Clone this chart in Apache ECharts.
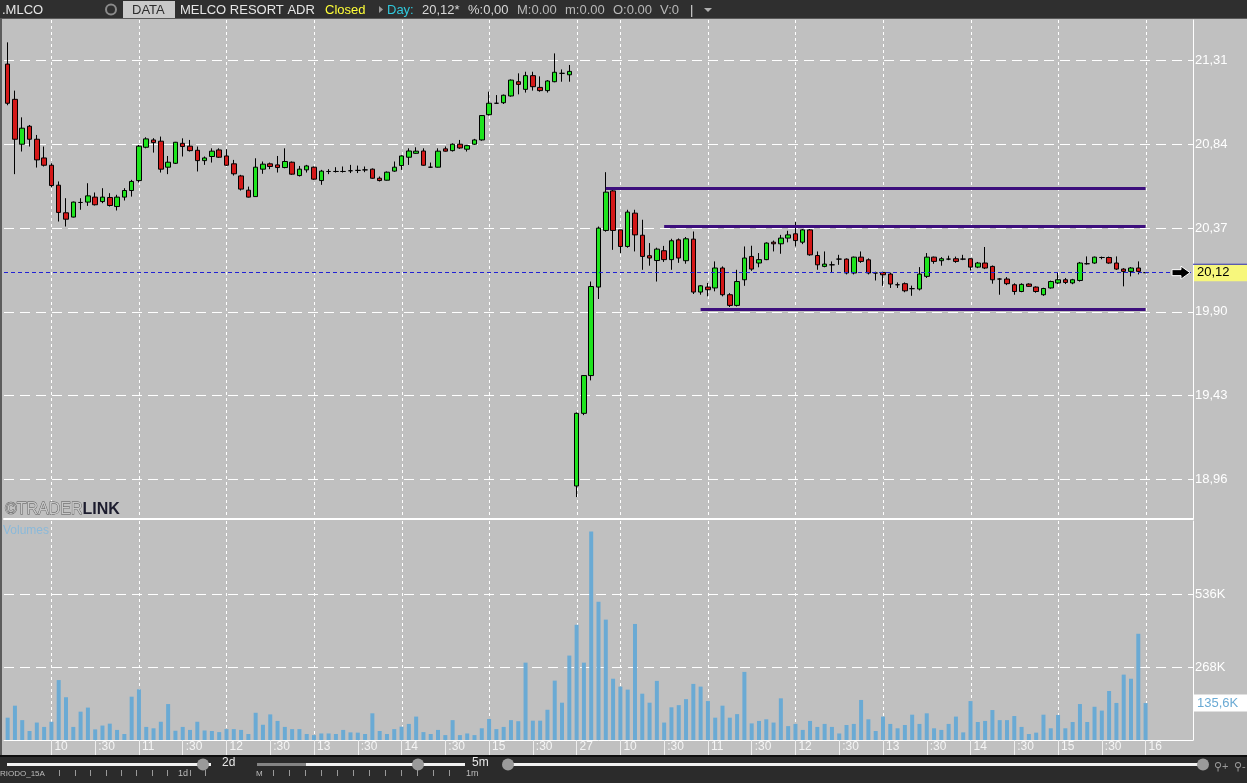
<!DOCTYPE html>
<html><head><meta charset="utf-8">
<script src="https://cdn.jsdelivr.net/npm/echarts@6/dist/echarts.min.js"></script>
<style>html,body{margin:0;padding:0;background:#c0c0c0;overflow:hidden}#chart{width:1247px;height:783px}</style>
</head><body><div id="chart"></div>
<script>
// ---------- DATA ----------
const dayLabels = ['26', '27'];
const sessionStart = '09:30';
const sessionEnds = ['15:55', '16:00'];
const padSlots = 6;
const priceTicks = [18.96, 19.43, 19.90, 20.37, 20.84, 21.31];
const volumeTickStep = 268000;
const opens = [21.291,21.093,20.841,20.942,20.869,20.764,20.723,20.611,20.456,20.432,20.514,20.516,20.544,20.519,20.542,20.491,20.544,20.581,20.637,20.824,
20.865,20.858,20.712,20.734,20.846,20.83,20.807,20.749,20.772,20.809,20.775,20.731,20.663,20.583,20.547,20.701,20.731,20.725,20.71,20.74,
20.665,20.697,20.712,20.637,20.688,20.688,20.688,20.692,20.694,20.697,20.701,20.65,20.639,20.69,20.721,20.768,20.79,20.803,20.712,20.712,
20.815,20.805,20.841,20.813,20.841,20.865,21.007,21.071,21.074,21.112,21.192,21.149,21.226,21.16,21.142,21.192,21.239,21.231,
18.922,19.33,19.542,20.039,20.357,20.579,20.36,20.267,20.454,20.33,20.215,20.188,20.243,20.193,20.304,20.187,20.308,20.011,20.039,20.034,
20.146,19.996,19.936,20.08,20.211,20.174,20.193,20.291,20.282,20.314,20.338,20.291,20.36,20.216,20.155,20.164,20.196,20.196,20.118,20.207,
20.192,20.118,20.121,20.112,20.052,20.058,20.03,20.028,20.099,20.207,20.187,20.196,20.198,20.196,20.198,20.151,20.174,20.155,20.084,20.084,
20.052,20.014,20.056,20.039,19.996,20.034,20.062,20.08,20.062,20.076,20.17,20.174,20.205,20.205,20.174,20.14,20.127,20.146,20.12];
const highs = [21.413,21.142,20.992,20.949,20.893,20.828,20.734,20.632,20.538,20.519,20.538,20.622,20.57,20.594,20.566,20.557,20.594,20.641,20.837,20.88,
20.875,20.884,20.775,20.854,20.874,20.865,20.828,20.772,20.818,20.818,20.813,20.753,20.669,20.603,20.762,20.744,20.738,20.775,20.818,20.744,
20.719,20.725,20.716,20.697,20.701,20.712,20.716,20.725,20.721,20.716,20.705,20.66,20.688,20.744,20.779,20.818,20.824,20.818,20.738,20.818,
20.828,20.846,20.865,20.837,20.871,21.005,21.136,21.117,21.12,21.205,21.239,21.248,21.248,21.222,21.201,21.351,21.261,21.286,
19.335,19.545,20.07,20.379,20.684,20.585,20.36,20.473,20.473,20.417,20.286,20.26,20.27,20.31,20.312,20.32,20.351,20.05,20.062,20.183,
20.155,20.005,20.136,20.267,20.271,20.23,20.29,20.30,20.332,20.355,20.404,20.365,20.365,20.239,20.239,20.183,20.22,20.2,20.21,20.239,
20.2,20.125,20.125,20.12,20.065,20.065,20.047,20.151,20.23,20.21,20.207,20.215,20.21,20.22,20.2,20.18,20.264,20.16,20.09,20.095,
20.06,20.06,20.06,20.043,20.035,20.075,20.121,20.09,20.085,20.18,20.211,20.21,20.21,20.21,20.211,20.145,20.151,20.183,20.12];
const lows = [21.06,20.673,20.80,20.828,20.71,20.716,20.60,20.407,20.379,20.43,20.473,20.495,20.497,20.51,20.491,20.469,20.525,20.547,20.626,20.818,
20.794,20.682,20.673,20.73,20.772,20.80,20.688,20.725,20.738,20.764,20.719,20.665,20.581,20.542,20.547,20.675,20.701,20.682,20.706,20.669,
20.66,20.682,20.641,20.613,20.673,20.682,20.682,20.679,20.679,20.684,20.647,20.632,20.637,20.686,20.697,20.725,20.787,20.72,20.708,20.71,
20.80,20.80,20.815,20.80,20.837,20.861,21.002,21.067,21.067,21.108,21.121,21.131,21.142,21.136,21.131,21.189,21.192,21.192,
18.86,19.32,19.515,19.972,20.35,20.248,20.23,20.26,20.239,20.136,20.159,20.07,20.18,20.136,20.175,20.17,20.0,19.996,19.987,20.015,
19.987,19.927,19.93,20.046,20.13,20.15,20.19,20.239,20.226,20.29,20.267,20.28,20.215,20.136,20.15,20.12,20.164,20.11,20.11,20.175,
20.11,20.076,20.046,20.034,20.034,20.01,19.99,20.02,20.09,20.17,20.159,20.19,20.175,20.19,20.132,20.145,20.14,20.058,19.996,20.05,
19.996,20.01,20.04,20.007,19.99,20.03,20.056,20.056,20.055,20.07,20.165,20.17,20.195,20.17,20.135,20.043,20.099,20.11,20.12];
const closes = [21.071,20.869,20.931,20.869,20.753,20.723,20.609,20.458,20.42,20.516,20.514,20.551,20.501,20.544,20.497,20.544,20.581,20.632,20.83,20.871,
20.85,20.701,20.74,20.852,20.828,20.805,20.749,20.764,20.802,20.768,20.723,20.675,20.589,20.544,20.712,20.729,20.716,20.71,20.744,20.673,
20.701,20.719,20.645,20.69,20.688,20.688,20.688,20.692,20.694,20.697,20.65,20.637,20.684,20.712,20.775,20.803,20.802,20.723,20.712,20.802,
20.802,20.841,20.82,20.833,20.865,21.002,21.071,21.071,21.116,21.201,21.177,21.226,21.164,21.142,21.196,21.245,21.239,21.25,
19.33,19.542,20.042,20.37,20.572,20.357,20.267,20.46,20.332,20.211,20.202,20.252,20.193,20.299,20.202,20.31,20.011,20.046,20.024,20.146,
19.996,19.936,20.07,20.202,20.14,20.193,20.286,20.282,20.314,20.332,20.30,20.36,20.22,20.164,20.168,20.164,20.196,20.118,20.207,20.183,
20.118,20.118,20.108,20.056,20.052,20.018,20.03,20.112,20.207,20.183,20.198,20.196,20.183,20.196,20.151,20.174,20.146,20.08,20.084,20.058,
20.014,20.054,20.043,20.014,20.031,20.07,20.08,20.065,20.08,20.174,20.17,20.207,20.205,20.174,20.14,20.127,20.146,20.127,20.12];
const volumesK = [82,126,73,33,64,48,67,220,157,48,104,119,39,53,60,37,22,159,186,48,
43,67,132,34,48,37,67,35,33,29,40,40,37,22,100,56,94,70,48,40,
40,22,18,24,24,22,37,28,27,22,98,33,22,40,49,59,86,29,22,37,
18,73,18,24,18,43,77,40,48,73,69,284,71,71,111,218,137,310,
423,284,765,508,442,225,196,185,426,170,137,217,64,120,128,150,206,196,143,82,
126,82,95,250,61,70,76,64,153,51,59,37,70,48,59,48,24,55,59,147,
76,33,86,59,43,55,93,59,98,43,37,59,86,28,143,66,70,110,73,73,
88,48,22,27,93,43,92,43,66,132,66,122,108,180,136,240,225,390,135.6];
const lastPrice = 20.12;
const lastVolume = 135600;
const levels = [
  {from: '27 09:50', to: '27 16:00', value: 20.594},
  {from: '27 10:30', to: '27 16:00', value: 20.382},
  {from: '27 10:55', to: '27 16:00', value: 19.914}
];

// ---------- categories ----------
const pad2 = n => String(n).padStart(2, '0');
const toMin = s => { const [h, m] = s.split(':').map(Number); return h * 60 + m; };
const categories = [];
dayLabels.forEach((d, i) => {
  for (let m = toMin(sessionStart); m <= toMin(sessionEnds[i]); m += 5) {
    categories.push(d + ' ' + pad2(Math.floor(m / 60)) + ':' + pad2(m % 60));
  }
});
for (let i = 1; i <= padSlots; i++) categories.push('pad' + i);

const timeOf = idx => { const c = categories[idx]; return (!c || c.startsWith('pad')) ? null : c.split(' ')[1]; };
const isLabelIdx = idx => { const t = timeOf(idx); if (!t) return false; if (t === sessionStart) return idx > 0; return t.endsWith(':00') || t.endsWith(':30'); };
const isHourIdx = idx => { const t = timeOf(idx); if (!t) return false; if (t === sessionStart) return idx > 0; return t.slice(3) === '00'; };
const hourCats = categories.filter((c, i) => isHourIdx(i));
const fmtPrice = v => v.toFixed(2).replace('.', ',');

function hasFont(name) {
  const c = document.createElement('canvas').getContext('2d');
  c.font = '14px monospace'; const a = c.measureText('0123456789:').width;
  c.font = '14px "' + name + '", monospace'; const b = c.measureText('0123456789:').width;
  return Math.abs(a - b) > 0.5;
}
const narrow = hasFont('Liberation Sans Narrow');
const xFont = narrow ? {fontFamily: '"Liberation Sans Narrow"', fontSize: 14} : {fontFamily: '"Liberation Sans", Arial', fontSize: 12};
const SANS = '"Liberation Sans", Arial, sans-serif';

const GRID_L = 4, GRID_R = 54;
const chart = echarts.init(document.getElementById('chart'), null, {renderer: 'canvas'});

const candleData = opens.map((o, i) => [o, closes[i], lows[i], highs[i]]);
const volData = volumesK.map(v => v * 1000);

// vertical hourly grid lines drawn through the category axis
const hourLineSeries = (xi, yi) => ({
  type: 'custom', xAxisIndex: xi, yAxisIndex: yi, z: 1, silent: true, clip: false,
  data: hourCats.map(c => [c, 0]),
  renderItem: (params, api) => {
    const x = Math.round(api.coord([api.value(0), 0])[0]) + 0.5;
    const cs = params.coordSys;
    return {type: 'line', shape: {x1: x, y1: cs.y, x2: x, y2: cs.y + cs.height},
            style: {stroke: '#ffffff', lineWidth: 1, lineDash: [3, 3]}};
  }
});

const txt = (id, x, y, text, fill, extra) => ({
  type: 'text', id, x, y, z: 20,
  style: Object.assign({text, fill, font: '13px ' + SANS, verticalAlign: 'middle'}, extra || {})
});

const graphics = [
  {type: 'rect', id: 'hdr', z: 19, shape: {x: 0, y: 0, width: 1247, height: 19}, style: {fill: '#2f2f2f'}},
  {type: 'rect', id: 'hdrline', z: 19, shape: {x: 0, y: 18, width: 1247, height: 1}, style: {fill: '#5a5a5a'}},
  txt('t1', 2, 10, '.MLCO', '#e6e6e6'),
  {type: 'circle', id: 'ic', z: 20, shape: {cx: 111, cy: 9.5, r: 5}, style: {fill: 'none', stroke: '#8a8a8a', lineWidth: 2}},
  {type: 'rect', id: 'databox', z: 20, shape: {x: 123, y: 1, width: 52, height: 17}, style: {fill: '#c9c9c9'}},
  txt('t2', 132, 10, 'DATA', '#2e2e2e'),
  txt('t3', 180, 10, 'MELCO RESORT ADR', '#e6e6e6'),
  txt('t4', 325, 10, 'Closed', '#ffff38'),
  {type: 'polygon', id: 'tri', z: 20, shape: {points: [[379, 6], [383, 9.5], [379, 13]]}, style: {fill: '#9a9a9a'}},
  txt('t5', 387, 10, 'Day:', '#30c8dc'),
  txt('t6', 422, 10, '20,12*', '#d8d8d8'),
  txt('t7', 468, 10, '%:0,00', '#d8d8d8'),
  txt('t8', 517, 10, 'M:0.00', '#b8b8b8'),
  txt('t9', 565, 10, 'm:0.00', '#b8b8b8'),
  txt('t10', 613, 10, 'O:0.00', '#b8b8b8'),
  txt('t11', 660, 10, 'V:0', '#b8b8b8'),
  txt('t12', 690, 10, '|', '#d8d8d8'),
  {type: 'polygon', id: 'tri2', z: 20, shape: {points: [[704, 8], [712, 8], [708, 12]]}, style: {fill: '#b0b0b0'}},
  {type: 'rect', id: 'lstrip', z: 19, shape: {x: 0, y: 19, width: 2, height: 736}, style: {fill: '#5c5c5c'}},
  {type: 'text', id: 'wm', x: 5, y: 510, z: 20, style: {
    text: '{a|©TRADER}{b|LINK}', verticalAlign: 'middle',
    rich: {
      a: {fontSize: 16, fontFamily: SANS, fill: '#c8c8c8', stroke: '#555555', lineWidth: 0.8},
      b: {fontSize: 16, fontFamily: SANS, fontWeight: 'bold', fill: '#1c1c2e'}
    }}},
  txt('vol', 3, 531, 'Volumes', '#8bb9d9', {font: '12px ' + SANS}),
  {type: 'rect', id: 'bp', z: 19, shape: {x: 0, y: 755, width: 1247, height: 28}, style: {fill: '#2b2b2b'}},
  {type: 'rect', id: 'bpl', z: 19, shape: {x: 0, y: 755, width: 1247, height: 2}, style: {fill: '#0e0e0e'}},
  {type: 'rect', id: 's1', z: 20, shape: {x: 7, y: 763, width: 204, height: 3}, style: {fill: '#f2f2f2'}},
  {type: 'circle', id: 'k1', z: 21, shape: {cx: 203, cy: 764.5, r: 6}, style: {fill: '#9a9a9a'}},
  txt('l2d', 222, 763, '2d', '#e8e8e8', {font: '12px ' + SANS}),
  {type: 'rect', id: 's2a', z: 20, shape: {x: 257, y: 763, width: 49, height: 3}, style: {fill: '#858585'}},
  {type: 'rect', id: 's2b', z: 20, shape: {x: 306, y: 763, width: 159, height: 3}, style: {fill: '#f2f2f2'}},
  {type: 'circle', id: 'k2', z: 21, shape: {cx: 418, cy: 764.5, r: 6}, style: {fill: '#9a9a9a'}},
  txt('l5m', 472, 763, '5m', '#e8e8e8', {font: '12px ' + SANS}),
  {type: 'rect', id: 's3', z: 20, shape: {x: 508, y: 763, width: 695, height: 3}, style: {fill: '#f2f2f2'}},
  {type: 'circle', id: 'k3', z: 21, shape: {cx: 508, cy: 764.5, r: 6}, style: {fill: '#9a9a9a'}},
  {type: 'circle', id: 'k4', z: 21, shape: {cx: 1203, cy: 764.5, r: 6}, style: {fill: '#9a9a9a'}},
  txt('zp', 1214, 767, '⚲+', '#9a9a9a', {font: '11px ' + SANS}),
  txt('zm', 1234, 767, '⚲-', '#9a9a9a', {font: '11px ' + SANS}),
  txt('rio', 0, 774, 'RIODO_15A', '#bdbdbd', {font: '8px ' + SANS}),
  txt('l1d', 178, 774, '1d', '#bdbdbd', {font: '9px ' + SANS}),
  txt('lM', 256, 774, 'M', '#bdbdbd', {font: '8px ' + SANS}),
  txt('l1m', 466, 774, '1m', '#bdbdbd', {font: '9px ' + SANS})
];
[59, 75, 90, 106, 121, 136, 152, 167, 190, 205].forEach((x, i) => graphics.push({type: 'rect', id: 'tk' + i, z: 20, shape: {x, y: 770, width: 1, height: 6}, style: {fill: '#9a9a9a'}}));
[273, 289, 305, 321, 337, 353, 369, 385, 401, 417, 433, 449].forEach((x, i) => graphics.push({type: 'rect', id: 'tm' + i, z: 20, shape: {x, y: 770, width: 1, height: 6}, style: {fill: '#9a9a9a'}}));

const axisLabelFont = {color: '#ffffff', fontSize: 13, fontFamily: SANS};

const option = {
  animation: false,
  backgroundColor: '#c0c0c0',
  grid: [
    {left: GRID_L, right: GRID_R, top: 20, height: 499},
    {left: GRID_L, right: GRID_R, top: 521, height: 219}
  ],
  xAxis: [
    {type: 'category', gridIndex: 0, data: categories, boundaryGap: true,
     axisLine: {show: true, lineStyle: {color: '#ffffff', width: 2}},
     axisTick: {show: false}, axisLabel: {show: false}, splitLine: {show: false}},
    {type: 'category', gridIndex: 1, data: categories, boundaryGap: true,
     axisLine: {show: true, lineStyle: {color: '#ffffff', width: 1}},
     axisTick: {show: true, alignWithLabel: true, interval: (i) => isLabelIdx(i), length: 15, lineStyle: {color: '#eeeeee', width: 1}},
     axisLabel: Object.assign({interval: (i) => isLabelIdx(i), color: '#f4f4f4', align: 'left', margin: 1, padding: [0, 0, 0, 3],
       formatter: v => { const t = v.split(' ')[1]; if (t === sessionStart) return v.split(' ')[0]; if (t.endsWith(':30')) return ':30'; return String(parseInt(t, 10)); }}, xFont),
     splitLine: {show: false}}
  ],
  yAxis: [
    {type: 'value', gridIndex: 0, position: 'right', min: 18.7367, max: 21.5385, scale: true,
     axisLine: {show: true, lineStyle: {color: '#ffffff', width: 1}},
     axisTick: {show: false, customValues: priceTicks},
     axisLabel: Object.assign({customValues: priceTicks, margin: 2, formatter: v => fmtPrice(v)}, axisLabelFont),
     splitLine: {show: true, lineStyle: {color: '#ffffff', width: 1, type: [10, 6]}}},
    {type: 'value', gridIndex: 1, position: 'right', min: 0, max: volumeTickStep * 3, interval: volumeTickStep,
     axisLine: {show: true, lineStyle: {color: '#ffffff', width: 1}},
     axisTick: {show: false},
     axisLabel: Object.assign({margin: 2, showMinLabel: false, showMaxLabel: false, formatter: v => Math.round(v / 1000) + 'K'}, axisLabelFont),
     splitLine: {show: true, showMinLine: false, showMaxLine: false, lineStyle: {color: '#ffffff', width: 1, type: [10, 6]}}}
  ],
  series: [
    hourLineSeries(0, 0),
    hourLineSeries(1, 1),
    {type: 'candlestick', name: 'MLCO', xAxisIndex: 0, yAxisIndex: 0, data: candleData, barWidth: 5, z: 3,
     itemStyle: {color: '#1ee41e', color0: '#d41818', borderColor: '#000000', borderColor0: '#000000', borderColorDoji: '#000000', borderWidth: 1},
     markLine: {
       silent: true, symbol: 'none', animation: false, z: 6,
       label: {show: false},
       lineStyle: {color: '#3d0f7d', width: 3, type: 'solid'},
       data: levels.map(l => [{coord: [l.from, l.value]}, {coord: [l.to, l.value]}]).concat([
         {yAxis: lastPrice, lineStyle: {color: '#2222d4', width: 1, type: [4, 3]},
          label: {show: true, position: 'end', distance: 1, formatter: fmtPrice(lastPrice),
                  backgroundColor: '#f7f77c', color: '#000000', fontSize: 13, fontFamily: SANS,
                  width: 50, lineHeight: 13, padding: [2, 0, 2, 3], align: 'left'}}
       ])
     }},
    {type: 'bar', xAxisIndex: 1, yAxisIndex: 1, data: volData, barWidth: 4, z: 3,
     itemStyle: {color: '#6aaad4'},
     markLine: {
       silent: true, symbol: 'none', animation: false, z: 6,
       data: [{yAxis: lastVolume, lineStyle: {color: 'rgba(0,0,0,0)', width: 1},
               label: {show: true, position: 'end', distance: 1, formatter: (lastVolume / 1000).toFixed(1).replace('.', ',') + 'K',
                       backgroundColor: '#ffffff', color: '#6aaad4', fontSize: 13, fontFamily: SANS,
                       width: 50, lineHeight: 13, padding: [2, 0, 2, 3], align: 'left'}}]
     }}
  ],
  graphic: {elements: graphics}
};
chart.setOption(option);

// current price arrow + blue line on the price tag
const py = chart.convertToPixel({yAxisIndex: 0}, lastPrice);
const rx = 1247 - GRID_R;
chart.setOption({graphic: {elements: [
  {type: 'polygon', id: 'arrow', z: 22, shape: {points: [
    [rx - 3, py], [rx - 12, py - 6.5], [rx - 12, py - 3], [rx - 21, py - 3], [rx - 21, py + 3], [rx - 12, py + 3], [rx - 12, py + 6.5]
  ]}, style: {fill: '#000000', stroke: '#ffffff', lineWidth: 1}},
  {type: 'rect', id: 'tagline', z: 22, shape: {x: rx, y: py - 9, width: 1247 - rx, height: 1}, style: {fill: '#2a2ab8'}}
]}});
</script></body></html>
